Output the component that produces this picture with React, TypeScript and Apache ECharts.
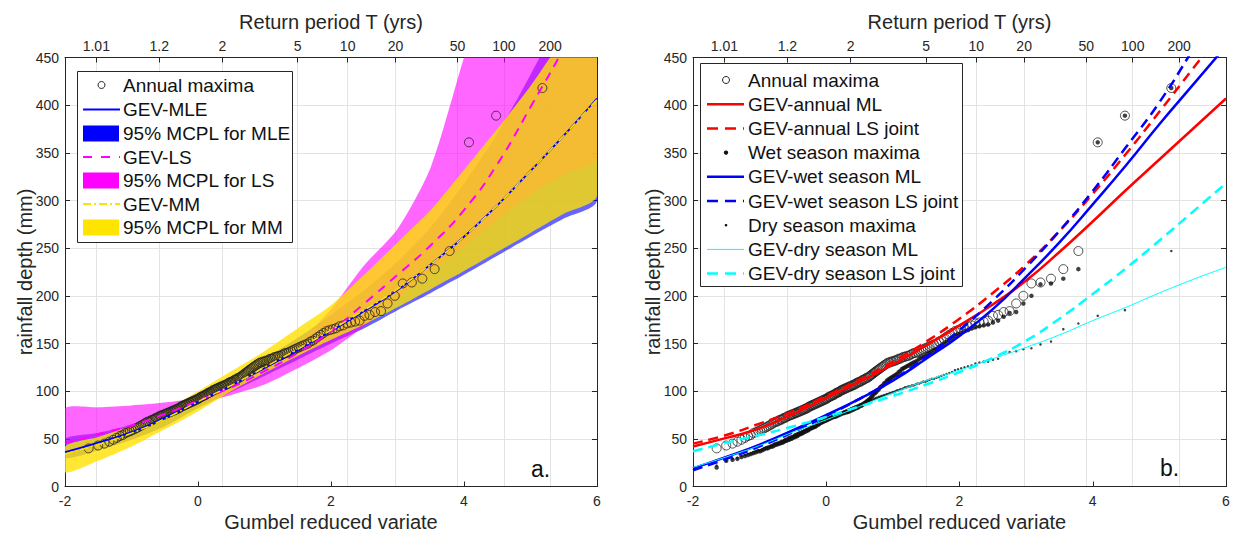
import React, { useEffect, useRef } from 'react';
import * as echarts from 'echarts';

// ---------- data ----------
const curveU = [-2, -1.5, -1, -0.5, 0, 0.5, 1, 1.5, 2, 2.5, 3, 3.5, 4, 4.5, 5, 5.5, 6];

// panel a (left)
const gevMLE = [36, 46, 57, 72, 89, 106, 124, 143, 163, 184, 206, 233, 262, 295, 331, 368, 407];
const gevMM = [34, 44, 56, 71, 89, 106, 125, 144, 164, 185, 207, 233, 262, 295, 331, 368, 406];
const gevLS = [45, 55, 64, 76, 90, 104, 121, 140, 163, 192, 222, 253, 290, 338, 398, 460, 530];
const mleLower = [30, 38, 49, 63, 82, 99, 116, 133, 150, 166, 185, 203, 222, 242, 262, 281, 300];
const mleUpper = [50, 56, 65, 79, 96, 114, 134, 156, 180, 206, 236, 272, 318, 370, 432, 500, 575];
const lsLower = [47, 52, 60, 73, 87, 96, 107, 124, 143, 168, 197, 225, 252, 280, 306, 327, 346];
const lsUpper = [82, 83, 85, 88, 93, 105, 124, 150, 186, 232, 270, 335, 450, 560, 680, 800, 930];
const mmLower = [15, 27, 42, 60, 79, 100, 119, 137, 154, 170, 188, 207, 226, 246, 266, 286, 305];
const mmUpper = [42, 52, 64, 80, 100, 121, 142, 166, 190, 222, 256, 290, 332, 375, 420, 472, 530];

// panel b (right)
const annualML = [42, 51, 61, 76, 93, 110, 128, 148, 169, 191, 216, 246, 278, 311, 343, 375, 407];
const annualLS = [45, 54, 66, 79, 95, 112, 131, 152, 176, 203, 233, 268, 307, 349, 393, 438, 482];
const wetML = [19, 31, 44, 59, 75, 92, 111, 134, 158, 186, 220, 256, 296, 337, 380, 421, 462];
const wetLS = [17, 29, 42, 57, 74, 92, 112, 136, 164, 195, 230, 268, 310, 356, 403, 458, 515];
const dryML = [20, 31, 43, 57, 70, 84, 98, 111, 122, 134, 146, 159, 174, 188, 203, 217, 230];
const dryLS = [37, 46, 54, 63, 73, 84, 95, 107, 120, 135, 153, 176, 202, 229, 258, 288, 318];

// sorted maxima (mm), ascending rank
const annualMaxima = [
  40, 43, 45, 47, 49, 51, 53, 54, 56, 57,
  58, 59, 60, 61, 62, 63, 64, 65, 66, 67,
  68, 68, 69, 70, 70, 71, 72, 72, 73, 74,
  74, 75, 75, 76, 76, 77, 77, 78, 78, 79,
  79, 80, 80, 81, 81, 82, 82, 83, 84, 84,
  85, 85, 86, 86, 87, 87, 88, 88, 89, 89,
  90, 90, 91, 91, 92, 92, 93, 94, 94, 95,
  95, 96, 96, 97, 98, 98, 99, 99, 100, 101,
  101, 102, 102, 103, 103, 104, 104, 105, 105, 106,
  106, 107, 107, 108, 109, 109, 110, 110, 111, 112,
  112, 113, 114, 114, 115, 116, 117, 118, 119, 120,
  121, 122, 123, 124, 125, 126, 127, 128, 129, 130,
  130, 131, 131, 132, 132, 133, 134, 134, 135, 136,
  136, 137, 137, 138, 139, 140, 140, 141, 142, 143,
  144, 145, 146, 147, 148, 149, 150, 152, 153, 155,
  157, 159, 161, 163, 164, 165, 166, 168, 169, 171,
  172, 173, 174, 179, 180, 183, 184, 192, 200, 213,
  214, 218, 228, 247, 361, 389, 418,
];
const wetMaxima = [
  20, 27, 28, 29, 31, 32, 33, 34, 35, 36,
  37, 37, 38, 39, 40, 40, 41, 42, 42, 43,
  44, 44, 45, 45, 46, 46, 47, 48, 48, 49,
  49, 50, 50, 51, 52, 52, 53, 53, 54, 55,
  55, 56, 56, 57, 58, 58, 59, 59, 60, 61,
  61, 62, 62, 63, 63, 64, 65, 65, 66, 67,
  67, 68, 68, 69, 69, 70, 70, 71, 71, 72,
  72, 73, 73, 73, 74, 74, 75, 75, 76, 76,
  77, 77, 77, 78, 78, 78, 79, 79, 80, 80,
  81, 81, 82, 82, 83, 83, 84, 85, 85, 86,
  87, 88, 89, 90, 91, 92, 94, 95, 97, 98,
  99, 101, 102, 104, 105, 106, 108, 109, 111, 112,
  113, 114, 115, 116, 117, 118, 120, 121, 123, 124,
  125, 126, 127, 128, 129, 130, 131, 132, 134, 135,
  136, 137, 139, 140, 141, 143, 144, 146, 148, 150,
  152, 154, 156, 158, 160, 161, 163, 164, 166, 167,
  168, 169, 170, 172, 174, 178, 182, 183, 192, 200,
  212, 213, 218, 228, 361, 389, 418,
];
const dryMaxima = [
  22, 27, 29, 30, 32, 33, 34, 35, 36, 37,
  38, 38, 39, 40, 41, 42, 42, 43, 44, 45,
  45, 46, 46, 47, 48, 48, 49, 50, 50, 51,
  52, 52, 53, 53, 54, 55, 55, 56, 56, 57,
  57, 58, 58, 59, 59, 60, 60, 61, 61, 62,
  63, 63, 64, 64, 65, 65, 66, 66, 67, 68,
  68, 69, 69, 70, 70, 71, 71, 72, 72, 73,
  73, 74, 74, 74, 75, 75, 76, 76, 77, 77,
  78, 78, 79, 79, 80, 80, 81, 81, 82, 82,
  83, 83, 84, 84, 85, 85, 86, 86, 87, 87,
  88, 88, 89, 89, 90, 90, 91, 91, 92, 92,
  93, 93, 94, 94, 95, 95, 96, 96, 97, 97,
  98, 98, 99, 99, 100, 101, 101, 102, 102, 103,
  104, 104, 105, 105, 106, 106, 107, 108, 108, 109,
  110, 110, 111, 112, 113, 113, 114, 115, 116, 117,
  118, 119, 120, 122, 123, 124, 125, 126, 127, 129,
  130, 131, 131, 133, 134, 140, 141, 142, 144, 145,
  149, 152, 165, 171, 179, 185, 247,
];

const returnPeriods = [1.01, 1.2, 2, 5, 10, 20, 50, 100, 200];
const returnLabels = ['1.01', '1.2', '2', '5', '10', '20', '50', '100', '200'];
const bottomTicksInterval = 2;
const yTicksInterval = 50;

// ---------- helpers ----------
const FONT = '"Liberation Sans", Arial, Helvetica, sans-serif';
const INK = '#262626';
const GRIDC = '#e3e3e3';

const gumbelOfT = (T: number) => -Math.log(-Math.log(1 - 1 / T));
const tVariates = returnPeriods.map(gumbelOfT);
const tFormatter = (v: number) => {
  const i = tVariates.findIndex((t) => Math.abs(t - v) < 1e-6);
  return i >= 0 ? returnLabels[i] : '';
};
// Weibull plotting position on the Gumbel reduced variate scale
const plotPositions = (vals: number[]) => {
  const n = vals.length;
  return vals.map((v, i) => [-Math.log(-Math.log((i + 1) / (n + 1))), v]);
};
const pairs = (arr: number[]) => curveU.map((u, i) => [u, arr[i]]);

const GRID_TOP = 57.5;
const GRID_BOTTOM = 51.5;

function bottomAxis(gridIndex: number) {
  return {
    type: 'value', gridIndex, position: 'bottom', min: -2, max: 6, interval: bottomTicksInterval,
    axisLine: { show: true, onZero: false, lineStyle: { color: INK, width: 1 } },
    axisTick: { show: true, inside: true, length: 5, lineStyle: { color: INK } },
    axisLabel: { fontSize: 14, color: INK, margin: 7, fontFamily: FONT },
    splitLine: { show: false },
    name: 'Gumbel reduced variate', nameLocation: 'middle', nameGap: 25, nameMoveOverlap: false,
    nameTextStyle: { fontSize: 20, color: INK, fontFamily: FONT },
  };
}
function topAxis(gridIndex: number) {
  return {
    type: 'value', gridIndex, position: 'top', min: -2, max: 6,
    axisLine: { show: true, onZero: false, lineStyle: { color: INK, width: 1 } },
    axisTick: { show: true, inside: true, length: 5, lineStyle: { color: INK }, customValues: tVariates },
    axisLabel: { fontSize: 14, color: INK, margin: 5, fontFamily: FONT, customValues: tVariates, formatter: tFormatter },
    splitLine: { show: true, lineStyle: { color: GRIDC, width: 1 } },
    name: 'Return period T (yrs)', nameLocation: 'middle', nameGap: 26, nameMoveOverlap: false,
    nameTextStyle: { fontSize: 20, color: INK, fontFamily: FONT },
  };
}
function leftAxis(gridIndex: number) {
  return {
    type: 'value', gridIndex, position: 'left', min: 0, max: 450, interval: yTicksInterval,
    axisLine: { show: true, onZero: false, lineStyle: { color: INK, width: 1 } },
    axisTick: { show: true, inside: true, length: 5, lineStyle: { color: INK } },
    axisLabel: { fontSize: 14, color: INK, margin: 6, fontFamily: FONT },
    splitLine: { show: true, lineStyle: { color: GRIDC, width: 1 } },
    name: 'rainfall depth (mm)', nameLocation: 'middle', nameGap: 30, nameMoveOverlap: false,
    nameTextStyle: { fontSize: 20, color: INK, fontFamily: FONT },
  };
}
function rightAxis(gridIndex: number) {
  return {
    type: 'value', gridIndex, position: 'right', min: 0, max: 450, interval: yTicksInterval,
    axisLine: { show: true, onZero: false, lineStyle: { color: INK, width: 1 } },
    axisTick: { show: true, inside: true, length: 5, lineStyle: { color: INK } },
    axisLabel: { show: false },
    splitLine: { show: false },
  };
}

const LA = { xAxisIndex: 0, yAxisIndex: 0 };
const RA = { xAxisIndex: 2, yAxisIndex: 2 };

// confidence band drawn as one polygon through the axes' own coordinate mapping
function band(name: string, lower: number[], upper: number[], color: string, z: number) {
  return {
    type: 'custom', ...LA, name, z, silent: true,
    data: curveU.map((u, i) => [u, lower[i], upper[i]]),
    encode: { x: 0, y: [1, 2] },
    renderItem: (params: any, api: any) => {
      if (params.dataIndex !== 0) return null;
      const top = curveU.map((u, i) => api.coord([u, upper[i]]));
      const bot = curveU.map((u, i) => api.coord([u, lower[i]])).reverse();
      const cs = params.coordSys;
      return {
        type: 'polygon',
        shape: { points: top.concat(bot), smooth: 0.25 },
        style: { fill: color },
        clipPath: { type: 'rect', shape: { x: cs.x, y: cs.y, width: cs.width, height: cs.height } },
      };
    },
  };
}
function curve(axes: any, name: string, arr: number[], color: string, width: number, type: any, z = 5) {
  return {
    type: 'line', ...axes, name, data: pairs(arr), symbol: 'none', smooth: 0.5,
    lineStyle: { color, width, type }, z, silent: true,
  };
}
function scatter(axes: any, name: string, arr: number[], size: number, hollow: boolean, z = 4) {
  return {
    type: 'scatter', ...axes, name, data: plotPositions(arr), symbol: 'circle', symbolSize: size,
    itemStyle: hollow
      ? { color: 'rgba(0,0,0,0)', borderColor: '#222', borderWidth: 1 }
      : { color: '#111' },
    z, silent: true,
  };
}

// ---------- legends (graphic) ----------
function lgText(x: number, y: number, text: string) {
  return { type: 'text', x, y, z: 101, style: { text, fontSize: 19, fontFamily: FONT, fill: '#111', verticalAlign: 'middle', align: 'left' } };
}
function lgLine(x1: number, x2: number, y: number, stroke: string, lineWidth: number, lineDash?: number[]) {
  return { type: 'line', z: 101, shape: { x1, y1: y, x2, y2: y }, style: { stroke, lineWidth, lineDash } };
}
function lgRect(x: number, y: number, w: number, h: number, fill: string) {
  return { type: 'rect', z: 101, shape: { x, y: y - h / 2, width: w, height: h }, style: { fill } };
}
function lgDot(cx: number, cy: number, r: number, hollow: boolean) {
  return {
    type: 'circle', z: 101, shape: { cx, cy, r },
    style: hollow ? { fill: 'none', stroke: '#222', lineWidth: 1 } : { fill: '#111' },
  };
}
const leftLegendRows = [85, 109.5, 133.5, 157, 180.5, 204, 227.5];
const rightLegendRows = [80, 104.2, 128.4, 152.6, 176.8, 201, 225.2, 249.4, 273.6];

const legendGraphics: any[] = [
  { type: 'rect', z: 100, shape: { x: 77.5, y: 71.5, width: 215, height: 171 }, style: { fill: '#fff', stroke: INK, lineWidth: 1 } },
  lgDot(101.5, leftLegendRows[0], 3.5, true), lgText(123, leftLegendRows[0], 'Annual maxima'),
  lgLine(83, 120, leftLegendRows[1], '#0000ff', 2), lgText(123, leftLegendRows[1], 'GEV-MLE'),
  lgRect(83, leftLegendRows[2], 36, 16, '#0000ff'), lgText(123, leftLegendRows[2], '95% MCPL for MLE'),
  lgLine(83, 120, leftLegendRows[3], '#ff00ff', 2, [9, 9]), lgText(123, leftLegendRows[3], 'GEV-LS'),
  lgRect(83, leftLegendRows[4], 36, 16, '#ff00ff'), lgText(123, leftLegendRows[4], '95% MCPL for LS'),
  lgLine(83, 120, leftLegendRows[5], '#ffe000', 2, [8, 3, 2, 3]), lgText(123, leftLegendRows[5], 'GEV-MM'),
  lgRect(83, leftLegendRows[6], 36, 16, '#ffe400'), lgText(123, leftLegendRows[6], '95% MCPL for MM'),

  { type: 'rect', z: 100, shape: { x: 700.5, y: 63.5, width: 262, height: 223 }, style: { fill: '#fff', stroke: INK, lineWidth: 1 } },
  lgDot(726, rightLegendRows[0], 3.5, true), lgText(748, rightLegendRows[0], 'Annual maxima'),
  lgLine(707, 744, rightLegendRows[1], '#ff0000', 2.5), lgText(748, rightLegendRows[1], 'GEV-annual ML'),
  lgLine(707, 744, rightLegendRows[2], '#ff0000', 2.5, [11, 7]), lgText(748, rightLegendRows[2], 'GEV-annual LS joint'),
  lgDot(726, rightLegendRows[3], 2.2, false), lgText(748, rightLegendRows[3], 'Wet season maxima'),
  lgLine(707, 744, rightLegendRows[4], '#0000ff', 2.5), lgText(748, rightLegendRows[4], 'GEV-wet season ML'),
  lgLine(707, 744, rightLegendRows[5], '#0000ff', 2.5, [11, 7]), lgText(748, rightLegendRows[5], 'GEV-wet season LS joint'),
  lgDot(726, rightLegendRows[6], 1.3, false), lgText(748, rightLegendRows[6], 'Dry season maxima'),
  lgLine(707, 744, rightLegendRows[7], '#00ffff', 1), lgText(748, rightLegendRows[7], 'GEV-dry season ML'),
  lgLine(707, 744, rightLegendRows[8], '#00ffff', 2.5, [11, 7]), lgText(748, rightLegendRows[8], 'GEV-dry season LS joint'),

  { type: 'text', x: 531, y: 469, z: 101, style: { text: 'a.', fontSize: 23, fontFamily: FONT, fill: '#111', verticalAlign: 'middle' } },
  { type: 'text', x: 1160, y: 468, z: 101, style: { text: 'b.', fontSize: 23, fontFamily: FONT, fill: '#111', verticalAlign: 'middle' } },
];

const option: any = {
  animation: false,
  backgroundColor: '#ffffff',
  textStyle: { fontFamily: FONT },
  grid: [
    { left: 65, right: 637, top: GRID_TOP, bottom: GRID_BOTTOM, containLabel: false, outerBoundsMode: 'none' },
    { left: 693, right: 8, top: GRID_TOP, bottom: GRID_BOTTOM, containLabel: false, outerBoundsMode: 'none' },
  ],
  xAxis: [bottomAxis(0), topAxis(0), bottomAxis(1), topAxis(1)],
  yAxis: [leftAxis(0), rightAxis(0), leftAxis(1), rightAxis(1)],
  series: [
    // panel a: bands
    band('95% MCPL for MLE', mleLower, mleUpper, 'rgba(0,0,255,0.6)', 2),
    band('95% MCPL for LS', lsLower, lsUpper, 'rgba(255,0,255,0.6)', 2),
    band('95% MCPL for MM', mmLower, mmUpper, 'rgba(255,225,0,0.8)', 2),
    scatter(LA, 'Annual maxima', annualMaxima, 9, true, 4),
    curve(LA, 'GEV-MLE', gevMLE, '#0000ff', 1.8, 'solid', 5),
    curve(LA, 'GEV-LS', gevLS, '#ff00ff', 2, [9, 7], 5),
    curve(LA, 'GEV-MM', gevMM, '#ffe000', 1.5, [8, 3, 2, 3], 6),
    // panel b
    scatter(RA, 'Annual maxima ', annualMaxima, 9, true, 4),
    curve(RA, 'GEV-annual ML', annualML, '#ff0000', 2.5, 'solid', 5),
    curve(RA, 'GEV-annual LS joint', annualLS, '#ff0000', 2.5, [10, 6], 5),
    scatter(RA, 'Wet season maxima', wetMaxima, 4.5, false, 4),
    curve(RA, 'GEV-wet season ML', wetML, '#0000ff', 2.5, 'solid', 5),
    curve(RA, 'GEV-wet season LS joint', wetLS, '#0000ff', 2.5, [10, 6], 5),
    scatter(RA, 'Dry season maxima', dryMaxima, 2.5, false, 4),
    curve(RA, 'GEV-dry season ML', dryML, '#00ffff', 1, 'solid', 5),
    curve(RA, 'GEV-dry season LS joint', dryLS, '#00ffff', 2.5, [10, 6], 5),
  ],
  graphic: legendGraphics,
};

export default function App() {
  const ref = useRef<HTMLDivElement>(null);
  useEffect(() => {
    document.body.style.margin = '0';
    const chart = echarts.init(ref.current as HTMLDivElement, undefined, { renderer: 'svg' });
    chart.setOption(option);
    return () => chart.dispose();
  }, []);
  return (
    <div
      ref={ref}
      style={{ position: 'absolute', left: 0, top: 0, width: 1234, height: 538, background: '#fff' }}
    />
  );
}
